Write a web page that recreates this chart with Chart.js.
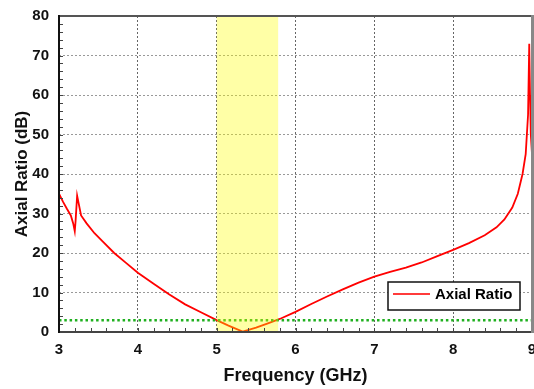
<!DOCTYPE html>
<html>
<head>
<meta charset="utf-8">
<script src="https://cdn.jsdelivr.net/npm/chart.js@4/dist/chart.umd.min.js"></script>
<style>
  html, body { margin: 0; padding: 0; background: #fff; }
  #wrap { width: 534px; height: 389px; position: relative; }
</style>
</head>
<body>
<div id="wrap"><canvas id="c" width="534" height="389"></canvas></div>
<script>
// ---- Data ----
const freqGHz = [3.0, 3.05, 3.1, 3.15, 3.18, 3.2, 3.21, 3.23, 3.25, 3.28, 3.35, 3.45, 3.55, 3.7, 3.85,
  4.0, 4.2, 4.4, 4.6, 4.8, 5.0, 5.15, 5.33, 5.5, 5.65, 5.8, 6.0, 6.2, 6.4, 6.6, 6.8,
  7.0, 7.2, 7.4, 7.6, 7.8, 8.0, 8.2, 8.4, 8.55, 8.65, 8.75, 8.82, 8.88, 8.92, 8.95,
  8.965, 8.975, 8.985, 9.0];
const axialRatioDB = [35, 33, 31.2, 29.5, 27.5, 25.5, 28, 34.5, 32.5, 29.5, 27.5, 25, 23, 20, 17.5,
  15, 12.2, 9.5, 7.0, 5.0, 3.0, 1.6, 0.1, 1.1, 2.2, 3.3, 5.1, 7.1, 9.0, 10.8, 12.5,
  14, 15.2, 16.3, 17.6, 19.2, 20.8, 22.5, 24.5, 26.5, 28.5, 31.5, 35, 40, 45, 55,
  73, 60, 50, 45];
const thresholdFreq = [3, 9];
const thresholdDB = [3, 3];
const bandGHz = [5.0, 5.78];
const xTicks = [3, 4, 5, 6, 7, 8, 9];
const yTicks = [0, 10, 20, 30, 40, 50, 60, 70, 80];
const seriesName = 'Axial Ratio';

const FONT = "'Liberation Sans', Arial, sans-serif";

const bandPlugin = {
  id: 'band',
  afterDatasetsDraw(chart) {
    const { ctx, chartArea: a, scales: { x } } = chart;
    const x0 = x.getPixelForValue(bandGHz[0]);
    const x1 = x.getPixelForValue(bandGHz[1]);
    ctx.save();
    ctx.fillStyle = 'rgba(255,255,0,0.35)';
    ctx.fillRect(x0, a.top, x1 - x0, a.bottom - a.top);
    ctx.restore();
  }
};

const framePlugin = {
  id: 'frame',
  afterDraw(chart) {
    const { ctx, chartArea: a, scales: { x, y } } = chart;
    ctx.save();
    // minor ticks
    ctx.strokeStyle = '#444';
    ctx.lineWidth = 1;
    ctx.beginPath();
    for (let i = 0; i <= 30; i++) {
      const v = 3 + i * 0.2;
      const px = Math.round(x.getPixelForValue(v)) + 0.5;
      ctx.moveTo(px, a.bottom);
      ctx.lineTo(px, a.bottom - 4);
    }
    for (let i = 0; i <= 40; i++) {
      const py = Math.round(y.getPixelForValue(i * 2)) + 0.5;
      ctx.moveTo(a.left, py);
      ctx.lineTo(a.left + 4, py);
    }
    ctx.stroke();
    // frame
    ctx.lineWidth = 2;
    ctx.strokeStyle = '#555';
    ctx.beginPath(); ctx.moveTo(a.left, a.top); ctx.lineTo(a.right, a.top); ctx.stroke();
    ctx.strokeStyle = '#444';
    ctx.beginPath(); ctx.moveTo(a.left, a.bottom); ctx.lineTo(a.right + 1, a.bottom); ctx.stroke();
    ctx.strokeStyle = '#111';
    ctx.beginPath(); ctx.moveTo(a.left, a.top - 1); ctx.lineTo(a.left, a.bottom + 1); ctx.stroke();
    ctx.lineWidth = 3;
    ctx.strokeStyle = '#888';
    ctx.beginPath(); ctx.moveTo(a.right + 0.5, a.top - 1); ctx.lineTo(a.right + 0.5, a.bottom + 1); ctx.stroke();

    // legend
    const lx = a.right - 144, ly = a.bottom - 50, lw = 132, lh = 28;
    ctx.fillStyle = '#fff';
    ctx.fillRect(lx, ly, lw, lh);
    ctx.lineWidth = 1.5;
    ctx.strokeStyle = '#111';
    ctx.strokeRect(lx, ly, lw, lh);
    ctx.strokeStyle = '#ff3b3b';
    ctx.lineWidth = 2;
    ctx.beginPath(); ctx.moveTo(lx + 5, ly + 12); ctx.lineTo(lx + 42, ly + 12); ctx.stroke();
    ctx.fillStyle = '#000';
    ctx.font = 'bold 15px ' + FONT;
    ctx.textBaseline = 'middle';
    ctx.textAlign = 'left';
    ctx.fillText(seriesName, lx + 47, ly + 13);
    ctx.restore();
  }
};

new Chart(document.getElementById('c'), {
  type: 'line',
  data: {
    datasets: [
      {
        label: seriesName,
        data: freqGHz.map((f, i) => ({ x: f, y: axialRatioDB[i] })),
        borderColor: '#ff0000',
        borderWidth: 1.8,
        pointRadius: 0,
        tension: 0,
        order: 2
      },
      {
        label: '3 dB',
        data: thresholdFreq.map((f, i) => ({ x: f, y: thresholdDB[i] })),
        borderColor: '#1fb01f',
        borderWidth: 2.5,
        borderDash: [2.5, 2.8],
        pointRadius: 0,
        order: 1
      }
    ]
  },
  options: {
    responsive: false,
    animation: false,
    devicePixelRatio: 1,
    layout: { padding: { top: 16, right: 2, left: 0, bottom: 0 } },
    plugins: { legend: { display: false }, tooltip: { enabled: false } },
    scales: {
      x: {
        type: 'linear',
        min: 3, max: 9,
        afterBuildTicks: s => { s.ticks = xTicks.map(v => ({ value: v })); },
        afterFit: s => { s.height = 57; s.paddingLeft = 0; s.paddingRight = 0; },
        grid: { color: '#666', lineWidth: 1, drawTicks: false },
        border: { display: false, dash: [2, 2] },
        ticks: { padding: 9, color: '#111', font: { family: FONT, size: 15, weight: 'bold' }, maxRotation: 0 },
        title: { display: true, text: 'Frequency (GHz)', color: '#111', padding: { top: 2, bottom: 2 },
          font: { family: FONT, size: 18, weight: 'bold' } }
      },
      y: {
        type: 'linear',
        min: 0, max: 80,
        afterBuildTicks: s => { s.ticks = yTicks.map(v => ({ value: v })); },
        afterFit: s => { s.width = 59; s.paddingTop = 0; s.paddingBottom = 0; },
        grid: { color: '#999', lineWidth: 1, drawTicks: false },
        border: { display: false, dash: [2, 2] },
        ticks: { padding: 10, color: '#111', font: { family: FONT, size: 15, weight: 'bold' } },
        title: { display: true, text: 'Axial Ratio (dB)', color: '#111', padding: { top: 12, bottom: 12 },
          font: { family: FONT, size: 17, weight: 'bold' } }
      }
    }
  },
  plugins: [bandPlugin, framePlugin]
});
</script>
</body>
</html>
